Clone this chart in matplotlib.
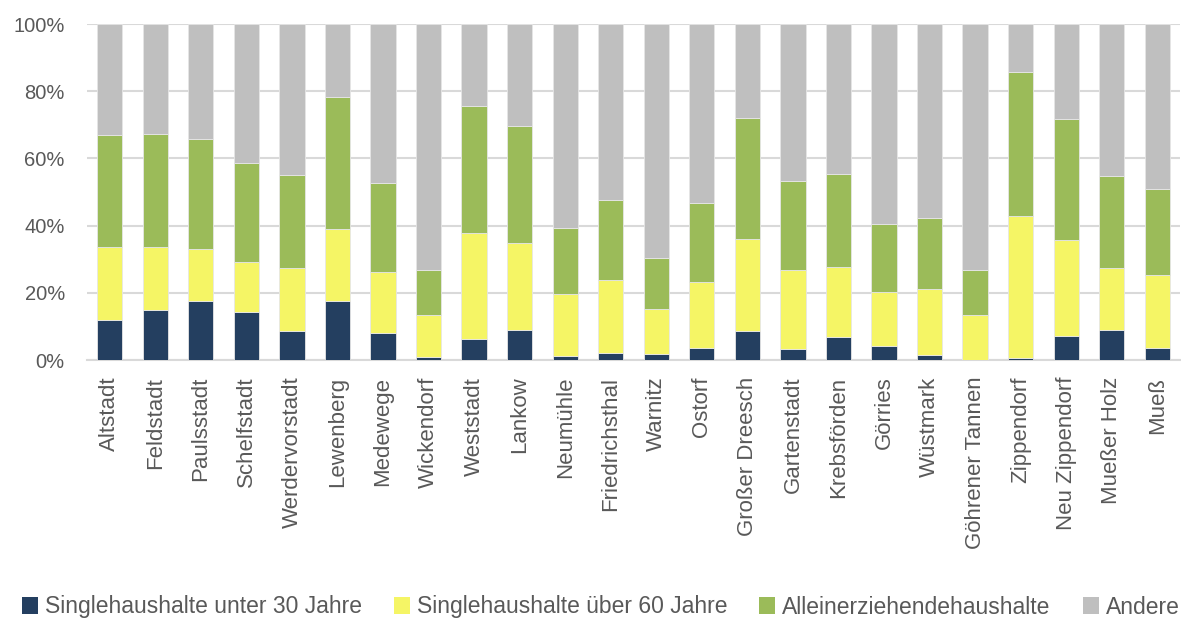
import matplotlib
matplotlib.use("Agg")
import matplotlib.pyplot as plt
import numpy as np
from matplotlib.ticker import FuncFormatter
from matplotlib.patches import Patch

categories = ["Altstadt", "Feldstadt", "Paulsstadt", "Schelfstadt", "Werdervorstadt",
              "Lewenberg", "Medewege", "Wickendorf", "Weststadt", "Lankow", "Neumühle",
              "Friedrichsthal", "Warnitz", "Ostorf", "Großer Dreesch", "Gartenstadt",
              "Krebsförden", "Görries", "Wüstmark", "Göhrener Tannen", "Zippendorf",
              "Neu Zippendorf", "Mueßer Holz", "Mueß"]

single_unter_30 = [11.8, 15.0, 17.5, 14.3, 8.5, 17.6, 8.0, 0.9, 6.3, 8.9, 1.1, 2.1,
                   1.8, 3.6, 8.5, 3.2, 6.8, 4.1, 1.6, 0.0, 0.5, 7.2, 9.0, 3.6]
single_ueber_60 = [21.7, 18.7, 15.5, 14.9, 18.9, 21.5, 18.2, 12.4, 31.4, 26.0, 18.5, 21.6,
                   13.4, 19.7, 27.4, 23.5, 20.9, 16.2, 19.5, 13.5, 42.3, 28.5, 18.4, 21.7]
alleinerziehend = [33.5, 33.6, 32.8, 29.3, 27.6, 39.3, 26.4, 13.4, 37.9, 34.8, 19.7, 24.0,
                   15.2, 23.5, 36.2, 26.6, 27.7, 20.3, 21.1, 13.4, 43.0, 36.1, 27.4, 25.5]
andere = [33.0, 32.7, 34.2, 41.5, 45.0, 21.6, 47.4, 73.3, 24.4, 30.3, 60.7, 52.3,
          69.6, 53.2, 27.9, 46.7, 44.6, 59.4, 57.8, 73.1, 14.2, 28.2, 45.2, 49.2]

series_names = ["Singlehaushalte unter 30 Jahre", "Singlehaushalte über 60 Jahre",
                "Alleinerziehendehaushalte", "Andere"]
colors = ["#243F60", "#F5F565", "#9BBB59", "#BFBFBF"]
series = [single_unter_30, single_ueber_60, alleinerziehend, andere]

plt.rcParams['font.family'] = ['Liberation Sans', 'DejaVu Sans']

fig = plt.figure(figsize=(11.81, 6.19), dpi=100)
ax = fig.add_axes([87/1181, 1-360/619, (1180-87)/1181, (360-24)/619])

x = np.arange(len(categories))
bottom = np.zeros(len(categories))
for name, vals, c in zip(series_names, series, colors):
    v = np.array(vals)
    ax.bar(x, v, bottom=bottom, width=0.555, color=c, label=name,
           edgecolor="#e6e6e6", linewidth=0.6, zorder=3)
    bottom += v

ax.set_xlim(-0.5, len(categories) - 0.5)
ax.set_ylim(0, 100)
ax.set_yticks([0, 20, 40, 60, 80, 100])
ax.yaxis.set_major_formatter(FuncFormatter(lambda v, p: f"{int(v)}%"))
ax.grid(axis='y', color="#D9D9D9", linewidth=1.5, zorder=0)
ax.set_axisbelow(True)
for s in ["top", "right", "left"]:
    ax.spines[s].set_visible(False)
ax.spines["bottom"].set_color("#D9D9D9")
ax.spines["bottom"].set_linewidth(1.5)
ax.tick_params(axis='y', length=0, pad=16, labelsize=14.5, labelcolor="#595959")
ax.tick_params(axis='x', length=0, pad=12, labelsize=16, labelcolor="#595959")
ax.set_xticks(x)
ax.set_xticklabels(categories, rotation=90, va='top', ha='center')

handles = [Patch(facecolor=c, edgecolor='none') for c in colors]
leg = fig.legend(handles, series_names, loc='center',
                 bbox_to_anchor=(0.5 + 10/1181, 1-607/619),
                 ncol=4, frameon=False, fontsize=16.5, handlelength=0.7, handleheight=0.7,
                 handletextpad=0.3, columnspacing=1.4, labelcolor="#595959")

fig.savefig("out.png", dpi=100)
